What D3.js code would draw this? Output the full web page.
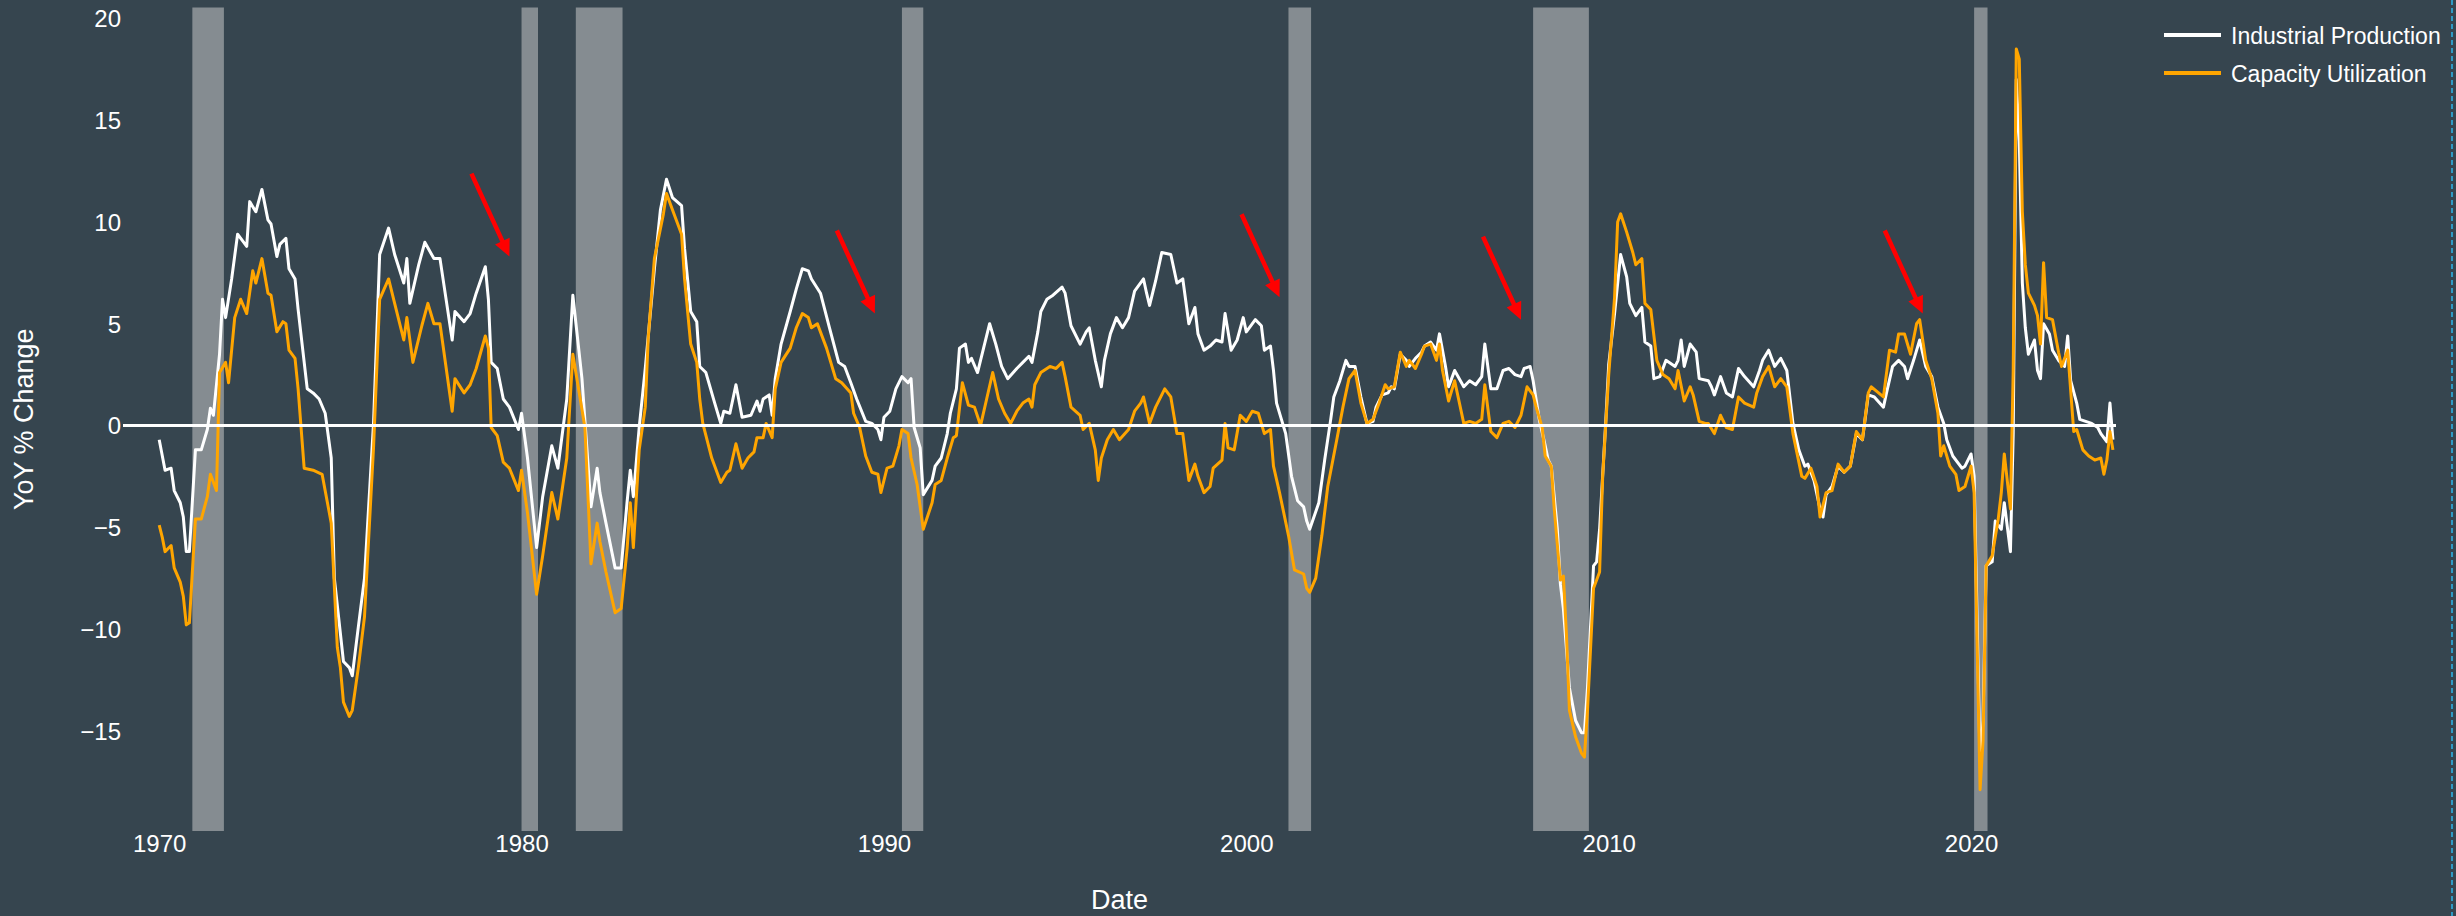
<!DOCTYPE html>
<html>
<head>
<meta charset="utf-8">
<script src="https://cdn.jsdelivr.net/npm/d3@7"></script>
<style>
  body { margin: 0; background-color: #36454f; }
  text { font-family: "Liberation Sans", Arial, sans-serif; }
</style>
</head>
<body>
<div id="myVis"></div>
<script>

var width = 2456;
var height = 916;

// YoY % change
var ipDates = ["1970-01","1970-03","1970-05","1970-06","1970-08","1970-09","1970-10","1970-11","1971-01","1971-03","1971-05","1971-06","1971-07","1971-09","1971-10","1971-11","1972-01","1972-03","1972-06","1972-07","1972-09","1972-11","1973-01","1973-02","1973-04","1973-05","1973-07","1973-08","1973-10","1973-11","1974-02","1974-04","1974-06","1974-08","1974-10","1974-11","1975-02","1975-04","1975-05","1975-07","1975-09","1975-12","1976-02","1976-05","1976-07","1976-10","1976-11","1976-12","1977-03","1977-05","1977-08","1977-10","1978-02","1978-03","1978-06","1978-08","1978-10","1979-01","1979-02","1979-03","1979-05","1979-07","1979-09","1979-12","1980-01","1980-03","1980-06","1980-08","1980-11","1981-01","1981-04","1981-06","1981-09","1981-12","1982-02","1982-03","1982-05","1982-08","1982-10","1982-12","1983-01","1983-02","1983-04","1983-06","1983-09","1983-11","1984-01","1984-03","1984-06","1984-07","1984-09","1984-11","1984-12","1985-02","1985-05","1985-07","1985-08","1985-10","1985-12","1986-02","1986-05","1986-07","1986-08","1986-09","1986-11","1986-12","1987-01","1987-03","1987-06","1987-08","1987-10","1987-12","1988-01","1988-04","1988-07","1988-10","1988-12","1989-02","1989-04","1989-07","1989-09","1989-11","1989-12","1990-01","1990-03","1990-05","1990-07","1990-09","1990-10","1990-11","1991-01","1991-02","1991-05","1991-06","1991-08","1991-10","1991-11","1992-01","1992-02","1992-04","1992-05","1992-06","1992-08","1992-10","1992-12","1993-02","1993-04","1993-06","1993-09","1993-11","1994-01","1994-02","1994-04","1994-05","1994-07","1994-09","1994-12","1995-01","1995-03","1995-06","1995-08","1995-09","1995-11","1996-01","1996-02","1996-04","1996-06","1996-08","1996-10","1996-12","1997-03","1997-04","1997-05","1997-07","1997-09","1997-12","1998-02","1998-04","1998-06","1998-08","1998-09","1998-11","1999-01","1999-03","1999-05","1999-06","1999-08","1999-10","1999-12","2000-01","2000-04","2000-06","2000-07","2000-09","2000-10","2000-11","2001-02","2001-04","2001-06","2001-08","2001-09","2001-10","2002-01","2002-03","2002-05","2002-06","2002-08","2002-10","2002-11","2003-01","2003-03","2003-05","2003-07","2003-08","2003-10","2003-12","2004-01","2004-02","2004-04","2004-06","2004-07","2004-09","2004-11","2004-12","2005-02","2005-04","2005-05","2005-07","2005-08","2005-10","2006-01","2006-03","2006-05","2006-07","2006-08","2006-10","2006-12","2007-02","2007-04","2007-06","2007-08","2007-09","2007-11","2007-12","2008-02","2008-04","2008-05","2008-06","2008-08","2008-09","2008-10","2008-12","2009-02","2009-04","2009-05","2009-06","2009-08","2009-09","2009-10","2009-12","2010-01","2010-03","2010-05","2010-07","2010-08","2010-10","2010-12","2011-01","2011-03","2011-04","2011-06","2011-08","2011-11","2011-12","2012-01","2012-02","2012-04","2012-06","2012-07","2012-10","2012-11","2012-12","2013-02","2013-04","2013-06","2013-08","2013-10","2014-01","2014-03","2014-04","2014-06","2014-08","2014-10","2014-12","2015-01","2015-02","2015-04","2015-06","2015-07","2015-09","2015-11","2015-12","2016-01","2016-03","2016-05","2016-07","2016-09","2016-11","2017-01","2017-03","2017-05","2017-08","2017-09","2017-11","2018-01","2018-03","2018-04","2018-06","2018-08","2018-10","2018-12","2019-02","2019-04","2019-05","2019-07","2019-10","2019-11","2020-01","2020-02","2020-04","2020-05","2020-06","2020-08","2020-09","2020-11","2020-12","2021-02","2021-03","2021-04","2021-05","2021-06","2021-07","2021-08","2021-10","2021-11","2021-12","2022-01","2022-03","2022-04","2022-06","2022-08","2022-09","2022-10","2022-12","2023-01","2023-03","2023-05","2023-07","2023-08","2023-10","2023-11","2023-12"];
var ipValues = [-0.7,-2.2,-2.1,-3.2,-3.8,-4.5,-6.2,-6.2,-1.2,-1.2,-0.2,0.85,0.5,3.5,6.2,5.3,7.2,9.4,8.8,11.0,10.5,11.6,10.1,9.9,8.3,8.9,9.2,7.7,7.2,5.7,1.8,1.6,1.3,0.6,-1.6,-7.5,-11.6,-11.9,-12.3,-9.9,-7.5,0.1,8.4,9.7,8.4,7.0,8.2,6.0,7.9,9.0,8.2,8.2,4.2,5.6,5.1,5.5,6.5,7.8,6.2,3.1,2.8,1.3,0.9,-0.2,0.6,-1.6,-6.0,-3.5,-1.0,-2.1,1.3,6.4,2.3,-4.0,-2.1,-3.3,-4.8,-7.0,-7.0,-3.7,-2.2,-3.5,-0.1,2.8,7.7,10.6,12.1,11.2,10.8,8.7,5.6,5.1,2.9,2.6,1.1,0.1,0.7,0.6,2.0,0.4,0.5,1.2,0.7,1.3,1.5,0.5,2.3,4.0,5.6,6.7,7.7,7.6,7.2,6.5,4.8,3.1,2.9,2.1,1.3,0.2,0.1,-0.2,-0.7,0.4,0.7,1.8,2.4,2.1,2.3,-0.1,-1.1,-3.4,-2.7,-2.0,-1.6,-0.4,0.6,1.8,3.8,4.0,3.1,3.3,2.6,3.8,5.0,4.0,2.9,2.3,2.8,3.1,3.4,3.1,4.6,5.6,6.2,6.4,6.8,6.5,4.9,4.0,4.6,4.8,3.2,1.9,3.2,4.5,5.3,4.8,5.3,6.6,7.2,6.5,5.9,7.1,8.5,8.4,7.0,7.2,5.0,5.8,4.5,3.7,3.9,4.2,4.1,5.5,3.7,4.2,5.3,4.6,5.2,4.9,3.7,3.9,2.7,1.1,-0.4,-2.5,-3.7,-4.0,-4.7,-5.1,-3.8,-1.7,0.3,1.4,2.2,3.2,2.9,2.9,1.4,0.1,0.2,0.9,1.5,1.6,1.9,1.8,3.5,3.2,2.9,3.3,3.6,3.9,4.1,3.7,4.5,2.9,1.9,2.7,1.9,2.2,2.0,2.4,4.0,1.8,1.8,2.7,2.8,2.5,2.4,2.8,2.9,2.2,0.3,-1.0,-1.7,-2.0,-5.1,-7.8,-9.0,-12.9,-14.5,-15.1,-15.1,-12.9,-6.9,-6.7,-5.1,0.1,3.0,5.5,8.4,7.3,6.0,5.4,5.8,4.1,3.9,2.3,2.4,3.2,2.9,3.2,4.2,2.9,4.0,3.6,2.3,2.2,1.9,1.5,2.4,1.6,1.4,2.8,2.4,1.9,2.7,3.2,3.7,2.9,3.3,2.7,1.4,0.1,-1.2,-2.0,-1.9,-2.7,-4.1,-4.5,-3.4,-3.0,-2.0,-2.3,-2.0,-0.4,-0.7,1.5,1.4,0.9,1.6,2.9,3.2,2.9,2.3,3.2,4.2,2.9,2.4,0.9,0.1,-0.7,-1.5,-2.1,-2.0,-1.4,-2.5,-16.5,-14.5,-6.9,-6.7,-4.7,-5.1,-3.8,-6.2,-0.4,17.0,14.0,7.0,4.8,3.5,4.2,2.7,2.3,5.0,4.5,3.7,3.2,2.9,4.4,2.2,1.1,0.3,0.2,0.1,-0.1,-0.4,-0.8,1.1,-0.7];

var cuDates = ["1970-01","1970-02","1970-03","1970-05","1970-06","1970-08","1970-09","1970-10","1970-11","1971-01","1971-03","1971-05","1971-06","1971-08","1971-09","1971-11","1971-12","1972-02","1972-04","1972-06","1972-08","1972-09","1972-11","1973-01","1973-02","1973-04","1973-06","1973-07","1973-08","1973-10","1973-11","1974-01","1974-04","1974-07","1974-10","1974-12","1975-01","1975-02","1975-04","1975-05","1975-07","1975-09","1975-12","1976-02","1976-05","1976-07","1976-10","1976-11","1977-01","1977-04","1977-06","1977-08","1977-10","1978-02","1978-03","1978-06","1978-08","1978-10","1979-01","1979-02","1979-03","1979-05","1979-07","1979-09","1979-12","1980-01","1980-03","1980-06","1980-08","1980-11","1981-01","1981-04","1981-06","1981-10","1981-12","1982-02","1982-03","1982-05","1982-08","1982-10","1982-12","1983-01","1983-02","1983-04","1983-06","1983-07","1983-09","1983-12","1984-01","1984-03","1984-06","1984-07","1984-09","1984-11","1984-12","1985-01","1985-04","1985-07","1985-09","1985-10","1985-12","1986-02","1986-04","1986-06","1986-07","1986-09","1986-10","1986-12","1987-01","1987-03","1987-06","1987-08","1987-10","1987-12","1988-01","1988-03","1988-06","1988-09","1988-11","1989-02","1989-03","1989-05","1989-07","1989-09","1989-11","1989-12","1990-02","1990-04","1990-06","1990-07","1990-09","1990-10","1990-12","1991-02","1991-05","1991-06","1991-08","1991-10","1991-12","1992-01","1992-03","1992-05","1992-07","1992-09","1992-11","1993-01","1993-03","1993-05","1993-07","1993-09","1993-11","1994-01","1994-02","1994-03","1994-05","1994-08","1994-10","1994-12","1995-01","1995-03","1995-06","1995-07","1995-09","1995-11","1995-12","1996-01","1996-03","1996-05","1996-07","1996-10","1996-12","1997-02","1997-03","1997-05","1997-07","1997-10","1997-12","1998-02","1998-04","1998-06","1998-08","1998-09","1998-11","1999-01","1999-02","1999-05","1999-06","1999-07","1999-09","1999-11","2000-01","2000-03","2000-05","2000-07","2000-09","2000-10","2000-12","2001-03","2001-05","2001-08","2001-09","2001-10","2001-12","2002-02","2002-04","2002-07","2002-09","2002-11","2003-01","2003-03","2003-05","2003-07","2003-09","2003-11","2003-12","2004-02","2004-04","2004-06","2004-07","2004-09","2004-11","2004-12","2005-02","2005-04","2005-05","2005-06","2005-08","2005-10","2006-01","2006-03","2006-05","2006-07","2006-08","2006-10","2006-12","2007-02","2007-04","2007-06","2007-08","2007-10","2007-12","2008-01","2008-03","2008-04","2008-06","2008-07","2008-09","2008-10","2008-11","2008-12","2009-02","2009-04","2009-05","2009-06","2009-08","2009-10","2009-11","2010-01","2010-03","2010-04","2010-05","2010-07","2010-09","2010-10","2010-12","2011-01","2011-03","2011-05","2011-07","2011-09","2011-11","2011-12","2012-02","2012-04","2012-05","2012-07","2012-09","2012-10","2012-12","2013-02","2013-04","2013-06","2013-08","2013-10","2014-01","2014-02","2014-04","2014-06","2014-08","2014-10","2014-12","2015-02","2015-05","2015-06","2015-08","2015-10","2015-11","2016-01","2016-03","2016-05","2016-07","2016-09","2016-11","2017-01","2017-03","2017-04","2017-08","2017-10","2017-12","2018-01","2018-03","2018-05","2018-07","2018-08","2018-10","2018-12","2019-02","2019-03","2019-04","2019-06","2019-08","2019-09","2019-11","2020-01","2020-02","2020-04","2020-05","2020-06","2020-08","2020-10","2020-11","2020-12","2021-02","2021-03","2021-04","2021-05","2021-06","2021-07","2021-08","2021-10","2021-11","2021-12","2022-01","2022-02","2022-04","2022-06","2022-07","2022-09","2022-11","2022-12","2023-02","2023-04","2023-06","2023-08","2023-09","2023-10","2023-11","2023-12"];
var cuValues = [-4.9,-5.5,-6.2,-5.9,-7.0,-7.7,-8.4,-9.8,-9.7,-4.6,-4.6,-3.5,-2.4,-3.2,2.6,3.1,2.1,5.3,6.2,5.5,7.6,7.0,8.2,6.5,6.4,4.6,5.1,5.0,3.7,3.3,1.8,-2.1,-2.2,-2.4,-4.8,-10.9,-11.9,-13.6,-14.3,-14.0,-11.9,-9.4,-1.1,6.2,7.2,6.0,4.2,5.3,3.1,4.9,6.0,5.0,5.0,0.7,2.3,1.6,2.0,2.8,4.4,3.8,-0.1,-0.5,-1.8,-2.1,-3.2,-2.2,-4.3,-8.3,-6.4,-3.3,-4.6,-1.6,3.5,-0.1,-6.8,-4.8,-5.7,-7.2,-9.2,-9.0,-6.0,-3.8,-6.0,-1.2,0.9,4.3,8.2,10.4,11.4,10.6,9.4,7.2,4.0,3.1,1.3,0.1,-1.6,-2.8,-2.3,-2.2,-0.9,-2.1,-1.6,-1.3,-0.6,-0.6,0.1,-0.6,1.8,3.1,3.8,4.8,5.5,5.3,4.8,5.0,3.8,2.3,2.1,1.6,0.6,-0.1,-1.5,-2.3,-2.4,-3.3,-2.1,-2.0,-1.0,-0.2,-0.4,-1.6,-2.9,-5.1,-3.8,-2.9,-2.7,-1.6,-0.6,-0.5,2.1,1.0,0.9,0.0,1.3,2.6,1.3,0.6,0.1,0.7,1.1,1.3,0.9,2.0,2.6,2.9,2.8,3.1,2.4,0.9,0.5,-0.2,0.1,-1.2,-2.7,-1.6,-0.7,-0.2,-0.7,-0.2,0.7,1.1,1.4,0.1,0.9,1.8,1.4,-0.4,-0.4,-2.7,-1.9,-2.5,-3.3,-3.0,-2.1,-1.7,0.1,-1.1,-1.2,0.5,0.2,0.7,0.6,-0.4,-0.2,-2.0,-3.3,-5.4,-7.1,-7.3,-8.0,-8.2,-7.5,-5.4,-3.0,-0.7,0.9,2.3,2.7,1.1,0.1,0.3,1.1,2.0,1.8,1.9,3.6,2.9,3.2,2.8,3.5,3.9,4.0,3.2,4.0,2.7,1.2,2.2,0.1,0.2,0.1,0.3,2.0,-0.3,-0.6,0.1,0.2,-0.1,0.5,1.9,1.5,0.9,-0.1,-1.5,-2.0,-4.1,-7.6,-7.4,-10.3,-14.0,-15.3,-16.1,-16.3,-14.0,-8.0,-7.2,-2.5,2.5,6.3,10.0,10.4,9.5,8.5,7.9,8.2,6.0,5.7,3.2,2.5,2.3,1.8,2.7,1.2,1.9,1.5,0.2,0.1,0.1,-0.4,0.5,-0.1,-0.2,1.4,1.1,0.9,1.6,2.4,2.9,1.9,2.3,1.9,-0.4,-2.5,-2.6,-2.1,-3.0,-4.5,-3.3,-3.2,-1.9,-2.3,-2.0,-0.3,-0.7,1.6,1.9,1.4,3.7,3.6,4.5,4.5,3.5,5.0,5.2,3.2,2.3,0.6,-1.5,-1.0,-2.0,-2.4,-3.2,-3.0,-2.0,-3.3,-17.9,-15.5,-6.9,-6.4,-4.6,-3.3,-1.4,-4.1,2.7,18.5,18.0,10.5,7.9,6.5,5.9,5.4,4.0,8.0,5.3,5.2,3.6,2.9,3.7,-0.3,-0.2,-1.2,-1.5,-1.7,-1.6,-2.4,-1.7,-0.3,-1.2];

// shaded recessions
var recessionStarts = ["1970-12-01","1980-01-01","1981-07-01","1990-07-01","2001-03-01","2007-12-01","2020-02-01"];
var recessionEnds = ["1971-10-15","1980-06-15","1982-10-15","1991-02-01","2001-10-15","2009-06-15","2020-06-15"];

// red arrows: where each one points
var arrowDates = ["1979-09-01","1989-10-01","2000-12-01","2007-08-01","2018-09-01"];
var arrowValues = [8.3, 5.5, 6.3, 5.2, 5.5];

var yTicks = [-15, -10, -5, 0, 5, 10, 15, 20];
var xTickYears = [1970, 1980, 1990, 2000, 2010, 2020];

var seriesNames = ["Industrial Production", "Capacity Utilization"];
var seriesColors = ["#ffffff", "#ffa500"];

var parseMonth = d3.timeParse("%Y-%m");
var parseDay = d3.timeParse("%Y-%m-%d");

var canvas = d3.select("#myVis")
                .append("svg")
                .attr("width", width)
                .attr("height", height)
                .style("display", "block")
                .style("background-color", "#36454f");

var plotLeft = 123, plotRight = 2116, plotTop = 7.5, plotBottom = 831;

var x = d3.scaleTime()
        .domain([new Date(1969, 0, 1), new Date(2024, 0, 1)])
        .range([plotLeft, plotRight]);

var y = d3.scaleLinear()
        .domain([-19.93, 20.54])
        .range([plotBottom, plotTop]);

// recession bars under everything
recessionStarts.forEach(function(s, i) {
        var x0 = x(parseDay(s)), x1 = x(parseDay(recessionEnds[i]));
        canvas.append("rect")
                .attr("x", x0)
                .attr("y", plotTop)
                .attr("width", x1 - x0)
                .attr("height", plotBottom - plotTop)
                .attr("fill", "#d3d3d3")
                .attr("opacity", 0.5);
});

var line = d3.line()
        .x(function(d) { return x(d.date); })
        .y(function(d) { return y(d.value); });

var ipData = ipDates.map(function(d, i) { return { date: parseMonth(d), value: ipValues[i] }; });
var cuData = cuDates.map(function(d, i) { return { date: parseMonth(d), value: cuValues[i] }; });

[ipData, cuData].forEach(function(data, i) {
        canvas.append("path")
                .datum(data)
                .attr("d", line)
                .attr("fill", "none")
                .attr("stroke", seriesColors[i])
                .attr("stroke-width", 3)
                .attr("stroke-linejoin", "round");
});

// zero line across the plot
canvas.append("line")
        .attr("x1", plotLeft)
        .attr("x2", plotRight)
        .attr("y1", y(0))
        .attr("y2", y(0))
        .attr("stroke", "#ffffff")
        .attr("stroke-width", 3);

// axes
var yAxis = d3.axisLeft(y)
        .tickValues(yTicks)
        .tickSize(0)
        .tickPadding(0)
        .tickFormat(function(d) { return d < 0 ? "\u2212" + Math.abs(d) : d; });

var gy = canvas.append("g")
        .attr("transform", "translate(121,0)")
        .call(yAxis);

var xAxis = d3.axisBottom(x)
        .tickValues(xTickYears.map(function(yr) { return new Date(yr, 0, 1); }))
        .tickSize(0)
        .tickPadding(0)
        .tickFormat(d3.timeFormat("%Y"));

var gx = canvas.append("g")
        .attr("transform", "translate(0,835)")
        .call(xAxis);

[gx, gy].forEach(function(g) {
        g.select(".domain").remove();
        g.selectAll("text")
                .attr("fill", "#ffffff")
                .style("font-size", "24px")
                .style("font-family", "'Liberation Sans', Arial, sans-serif");
});
gy.selectAll("text").attr("dy", "0.35em");
gx.selectAll("text").attr("dy", "0.72em");

canvas.append("text")
        .attr("x", (plotLeft + plotRight) / 2)
        .attr("y", 909)
        .attr("text-anchor", "middle")
        .attr("fill", "#ffffff")
        .style("font-size", "27px")
        .text("Date");

canvas.append("text")
        .attr("transform", "translate(33," + ((plotTop + plotBottom) / 2) + ") rotate(-90)")
        .attr("text-anchor", "middle")
        .attr("fill", "#ffffff")
        .style("font-size", "27px")
        .text("YoY % Change");

// red arrow annotations
var ax = -38, ay = -83;
var len = Math.sqrt(ax * ax + ay * ay);
var ux = -ax / len, uy = -ay / len;
var headLen = 17, headHalf = 8;

arrowDates.forEach(function(d, i) {
        var tx = x(parseDay(d)), ty = y(arrowValues[i]);
        var bx = tx - ux * headLen, by = ty - uy * headLen;
        canvas.append("line")
                .attr("x1", tx + ax)
                .attr("y1", ty + ay)
                .attr("x2", bx + ux * 2)
                .attr("y2", by + uy * 2)
                .attr("stroke", "#ff0000")
                .attr("stroke-width", 4.5);
        canvas.append("path")
                .attr("d", "M" + tx + "," + ty +
                        "L" + (bx - uy * headHalf) + "," + (by + ux * headHalf) +
                        "L" + (bx + uy * headHalf) + "," + (by - ux * headHalf) + "Z")
                .attr("fill", "#ff0000");
});

// legend
seriesNames.forEach(function(name, i) {
        var ly = 35 + i * 38;
        canvas.append("line")
                .attr("x1", 2164)
                .attr("x2", 2221)
                .attr("y1", ly)
                .attr("y2", ly)
                .attr("stroke", seriesColors[i])
                .attr("stroke-width", 4);
        canvas.append("text")
                .attr("x", 2231)
                .attr("y", ly + 9)
                .attr("fill", "#ffffff")
                .style("font-size", "23px")
                .text(name);
});

// frame edge on the right of the screenshot
canvas.append("line")
        .attr("x1", 2452)
        .attr("x2", 2452)
        .attr("y1", 0)
        .attr("y2", height)
        .attr("stroke", "#2e9ac4")
        .attr("stroke-width", 2)
        .attr("stroke-dasharray", "5,3");

</script>
</body>
</html>
